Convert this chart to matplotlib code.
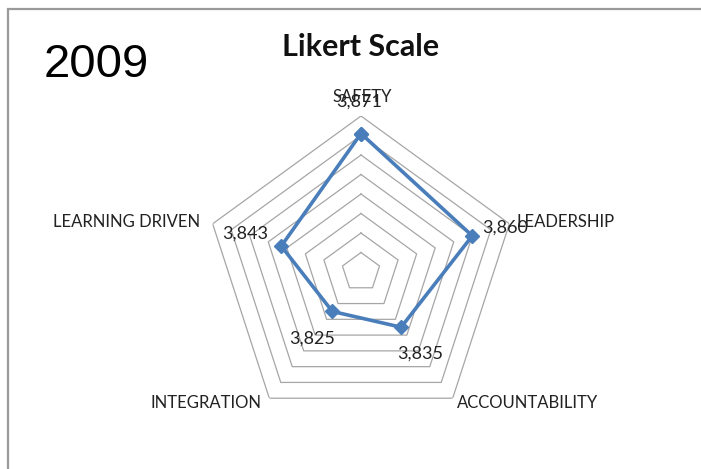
import numpy as np
import matplotlib
matplotlib.use("Agg")
import matplotlib.pyplot as plt
from matplotlib.patches import Rectangle

categories = ["SAFETY", "LEADERSHIP", "ACCOUNTABILITY", "INTEGRATION", "LEARNING DRIVEN"]
values = [3.871, 3.860, 3.835, 3.825, 3.843]
value_labels = ["3,871", "3,860", "3,835", "3,825", "3,843"]
grid_levels = [3.81, 3.82, 3.83, 3.84, 3.85, 3.86, 3.87, 3.88]
r_min, r_max = 3.80, 3.88
title = "Likert Scale"
year = "2009"

W, H = 701, 469
fig = plt.figure(figsize=(W / 100, H / 100), dpi=100)
fig.patch.set_facecolor("white")

def fx(px):
    return px / W

def fy(py):
    return 1 - py / H

# frame border (extends off the right/bottom edges)
fig.patches.append(Rectangle((fx(7.5), fy(480)), fx(720), fy(9) - fy(480),
                             transform=fig.transFigure, fill=False,
                             edgecolor="#9a9a9a", linewidth=1.6))

cx, cy, R = 361, 272, 156
ax = fig.add_axes([fx(cx - R), fy(cy + R), fx(2 * R), (2 * R) / H], projection="polar")
ax.set_theta_offset(np.pi / 2)
ax.set_theta_direction(-1)
ax.set_ylim(r_min, r_max)
ax.grid(False)
ax.set_xticks([])
ax.set_yticks([])
ax.spines["polar"].set_visible(False)
ax.set_facecolor("none")

n = len(categories)
theta = np.arange(n) * 2 * np.pi / n
theta_closed = np.append(theta, theta[0])

for lvl in grid_levels:
    ax.plot(theta_closed, [lvl] * (n + 1), color="#a6a6a6", linewidth=0.9, zorder=1)

vals_closed = values + [values[0]]
ax.plot(theta_closed, vals_closed, color="#4a7ebb", linewidth=2.6, marker="D",
        markersize=7, markerfacecolor="#4a7ebb", markeredgecolor="#4a7ebb", zorder=3,
        clip_on=False)

font = "Lato"
# category labels (positions in pixels)
cat_pos = [(362, 97), (566, 222), (528, 403), (206, 403), (127, 222)]
for lab, (px, py) in zip(categories, cat_pos):
    fig.text(fx(px), fy(py), lab, ha="center", va="center", fontsize=12,
             family=font, color="#222222")

val_pos = [(359, 102), (505, 228), (420, 354), (312, 339), (245, 234)]
for lab, (px, py) in zip(value_labels, val_pos):
    fig.text(fx(px), fy(py), lab, ha="center", va="center", fontsize=13,
             family=font, color="#222222")

fig.text(fx(361), fy(47), title, ha="center", va="center", fontsize=22,
         family=font, fontweight="bold", color="#111111")
fig.text(fx(96), fy(65), year, ha="center", va="center", fontsize=34,
         family="Liberation Sans", color="black")

fig.savefig("out.png", dpi=100, facecolor="white")
